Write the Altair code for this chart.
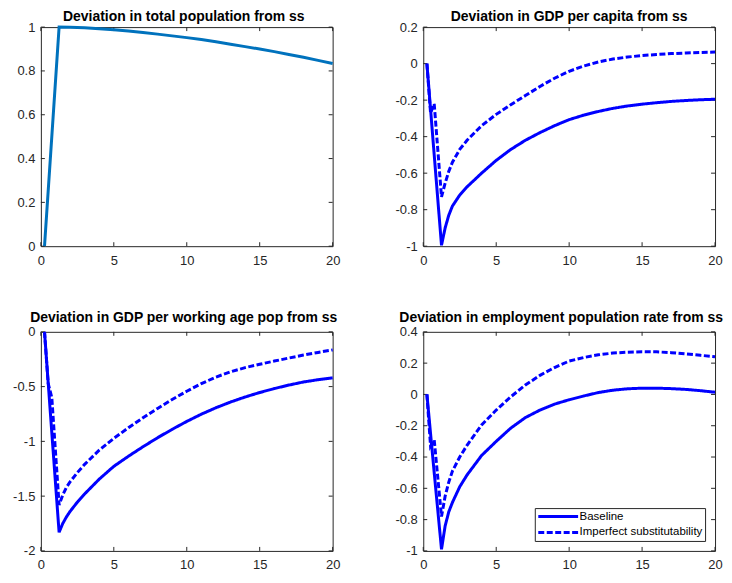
import altair as alt
import pandas as pd

# ---------------- data ----------------
SERIES = ["Baseline", "Imperfect substitutability"]

X_POP = [0.25, 1.25, 2, 3, 4, 5, 6, 7, 8, 9, 10, 11, 12, 13, 14, 15, 16, 17, 18, 19, 20]
POP = [0, 1.0, 0.999, 0.997, 0.993, 0.988, 0.982, 0.975, 0.968, 0.960, 0.952,
       0.943, 0.933, 0.922, 0.911, 0.900, 0.888, 0.875, 0.862, 0.848, 0.834]

X_MAIN = [0.25, 0.5, 0.75, 1.25, 1.5, 1.75, 2, 2.5, 3, 4, 5, 6, 7, 8, 9, 10,
          11, 12, 13, 14, 15, 16, 17, 18, 19, 20]

GDP_PC_BASE = [0, -0.25, -0.50, -0.995, -0.90, -0.83, -0.78, -0.72, -0.675, -0.60, -0.53,
               -0.47, -0.42, -0.378, -0.34, -0.307, -0.282, -0.262, -0.245, -0.232, -0.222,
               -0.214, -0.207, -0.202, -0.198, -0.195]
GDP_PC_IMP = [0, -0.27, -0.22, -0.73, -0.655, -0.59, -0.54, -0.47, -0.42, -0.34, -0.278,
              -0.225, -0.175, -0.125, -0.08, -0.042, -0.013, 0.009, 0.025, 0.036, 0.044,
              0.05, 0.055, 0.058, 0.061, 0.063]

WA_BASE = [0, -0.46, -0.92, -1.83, -1.75, -1.69, -1.64, -1.555, -1.48, -1.345, -1.228,
           -1.136, -1.049, -0.967, -0.89, -0.818, -0.752, -0.693, -0.641, -0.595, -0.554,
           -0.518, -0.486, -0.458, -0.437, -0.42]
WA_IMP = [0, -0.47, -0.60, -1.58, -1.49, -1.42, -1.37, -1.285, -1.21, -1.08, -0.973,
          -0.876, -0.785, -0.699, -0.618, -0.542, -0.473, -0.413, -0.365, -0.327, -0.296,
          -0.267, -0.239, -0.212, -0.188, -0.165]

EMP_BASE = [0, -0.25, -0.50, -0.99, -0.84, -0.75, -0.69, -0.59, -0.515, -0.39, -0.30,
            -0.215, -0.148, -0.10, -0.062, -0.034, -0.01, 0.012, 0.027, 0.036, 0.04,
            0.04, 0.037, 0.032, 0.024, 0.014]
EMP_IMP = [0, -0.33, -0.29, -0.78, -0.65, -0.56, -0.49, -0.40, -0.325, -0.195, -0.10,
           -0.015, 0.06, 0.122, 0.172, 0.213, 0.236, 0.253, 0.264, 0.27, 0.273,
           0.272, 0.267, 0.259, 0.25, 0.241]

X_TICKS = [0, 5, 10, 15, 20]
Y_TICKS_POP = [0, 0.2, 0.4, 0.6, 0.8, 1]
Y_TICKS_PC = [-1, -0.8, -0.6, -0.4, -0.2, 0, 0.2]
Y_TICKS_WA = [-2, -1.5, -1, -0.5, 0]
Y_TICKS_EMP = [-1, -0.8, -0.6, -0.4, -0.2, 0, 0.2, 0.4]

TITLES = ["Deviation in total population from ss",
          "Deviation in GDP per capita from ss",
          "Deviation in GDP per working age pop from ss",
          "Deviation in employment population rate from ss"]

# ---------------- style ----------------
FONT = "Liberation Sans"
AX = "#262626"
W, H = 293, 220


def long_df(base, imp):
    return pd.DataFrame({
        "x": X_MAIN + X_MAIN,
        "y": base + imp,
        "series": [SERIES[0]] * len(X_MAIN) + [SERIES[1]] * len(X_MAIN),
    })


def panel(title, title_y, title_dx, yticks, ydom, line_layer_fn):
    xscale = alt.Scale(domain=[0, 20], nice=False, zero=False)
    yscale = alt.Scale(domain=ydom, nice=False, zero=False)
    xaxis = alt.Axis(values=X_TICKS, title=None, domain=False, ticks=False, grid=False,
                     labelPadding=8, labelExpr="'' + datum.value", labelFontSize=13,
                     labelColor=AX, labelFont=FONT, labelFlush=False, labelOverlap=False)
    yaxis = alt.Axis(values=yticks, title=None, domain=False, ticks=False, grid=False,
                     labelPadding=6, labelExpr="'' + datum.value", labelFontSize=13,
                     labelColor=AX, labelFont=FONT, labelFlush=False, labelOverlap=False,
                     minExtent=32, maxExtent=32)

    def X(f):
        return alt.X(f, type="quantitative", scale=xscale, axis=xaxis)

    def Y(f):
        return alt.Y(f, type="quantitative", scale=yscale, axis=yaxis)

    xt = alt.Chart(pd.DataFrame({"tx": X_TICKS}))
    yt = alt.Chart(pd.DataFrame({"ty": yticks}))
    rule = dict(color=AX, strokeWidth=1)
    ticks = [
        xt.mark_rule(**rule).encode(x=X("tx"), y=alt.value(H), y2=alt.value(H - 4)),
        xt.mark_rule(**rule).encode(x=X("tx"), y=alt.value(0), y2=alt.value(4)),
        yt.mark_rule(**rule).encode(y=Y("ty"), x=alt.value(0), x2=alt.value(4)),
        yt.mark_rule(**rule).encode(y=Y("ty"), x=alt.value(W), x2=alt.value(W - 4)),
    ]
    head = alt.Chart(pd.DataFrame({"t": [title]})).mark_text(
        font=FONT, fontSize=14, fontWeight="bold", color="black",
        align="center", baseline="alphabetic",
    ).encode(text="t:N", x=alt.value(W / 2 + title_dx), y=alt.value(title_y))
    lines = line_layer_fn(X, Y)
    return alt.layer(*ticks, *lines, head).properties(width=W, height=H)


def pop_lines(X, Y):
    df = pd.DataFrame({"x": X_POP, "y": POP})
    return [alt.Chart(df).mark_line(color="#0072BD", strokeWidth=3).encode(x=X("x"), y=Y("y"))]


def two_lines(base, imp, show_legend):
    def fn(X, Y):
        if show_legend:
            leg = alt.Legend(title=None, orient="bottom-right", offset=10, fillColor="white",
                             strokeColor=AX, padding=2, cornerRadius=0,
                             symbolType="M-1,0H7", symbolSize=100, symbolStrokeWidth=3,
                             labelOffset=30, labelFontSize=11.5, labelFont=FONT,
                             labelColor="black", rowPadding=3)
        else:
            leg = None
        return [alt.Chart(long_df(base, imp)).mark_line(strokeWidth=3).encode(
            x=X("x"), y=Y("y"),
            color=alt.Color("series:N", scale=alt.Scale(domain=SERIES, range=["#0000FF", "#0000FF"]),
                            legend=leg),
            strokeDash=alt.StrokeDash("series:N",
                                      scale=alt.Scale(domain=SERIES, range=[[1, 0], [6, 2.5]]),
                                      legend=leg),
        )]
    return fn


p1 = panel(TITLES[0], -6, -3, Y_TICKS_POP, [0, 1], pop_lines)
p2 = panel(TITLES[1], -6, 0, Y_TICKS_PC, [-1, 0.2], two_lines(GDP_PC_BASE, GDP_PC_IMP, False))
p3 = panel(TITLES[2], -10, -3, Y_TICKS_WA, [-2, 0], two_lines(WA_BASE, WA_IMP, False))
p4 = panel(TITLES[3], -10, -8, Y_TICKS_EMP, [-1, 0.4], two_lines(EMP_BASE, EMP_IMP, True))

chart = alt.concat(p1, p2, p3, p4, columns=2, spacing={"row": 42, "column": 50}).resolve_scale(
    color="independent", strokeDash="independent"
).resolve_legend(color="independent", strokeDash="independent").properties(
    padding=0, background="white", align="each"
).configure_view(stroke=AX, strokeWidth=1)

chart.save("out.html", embed_options={"renderer": "svg", "actions": False})
